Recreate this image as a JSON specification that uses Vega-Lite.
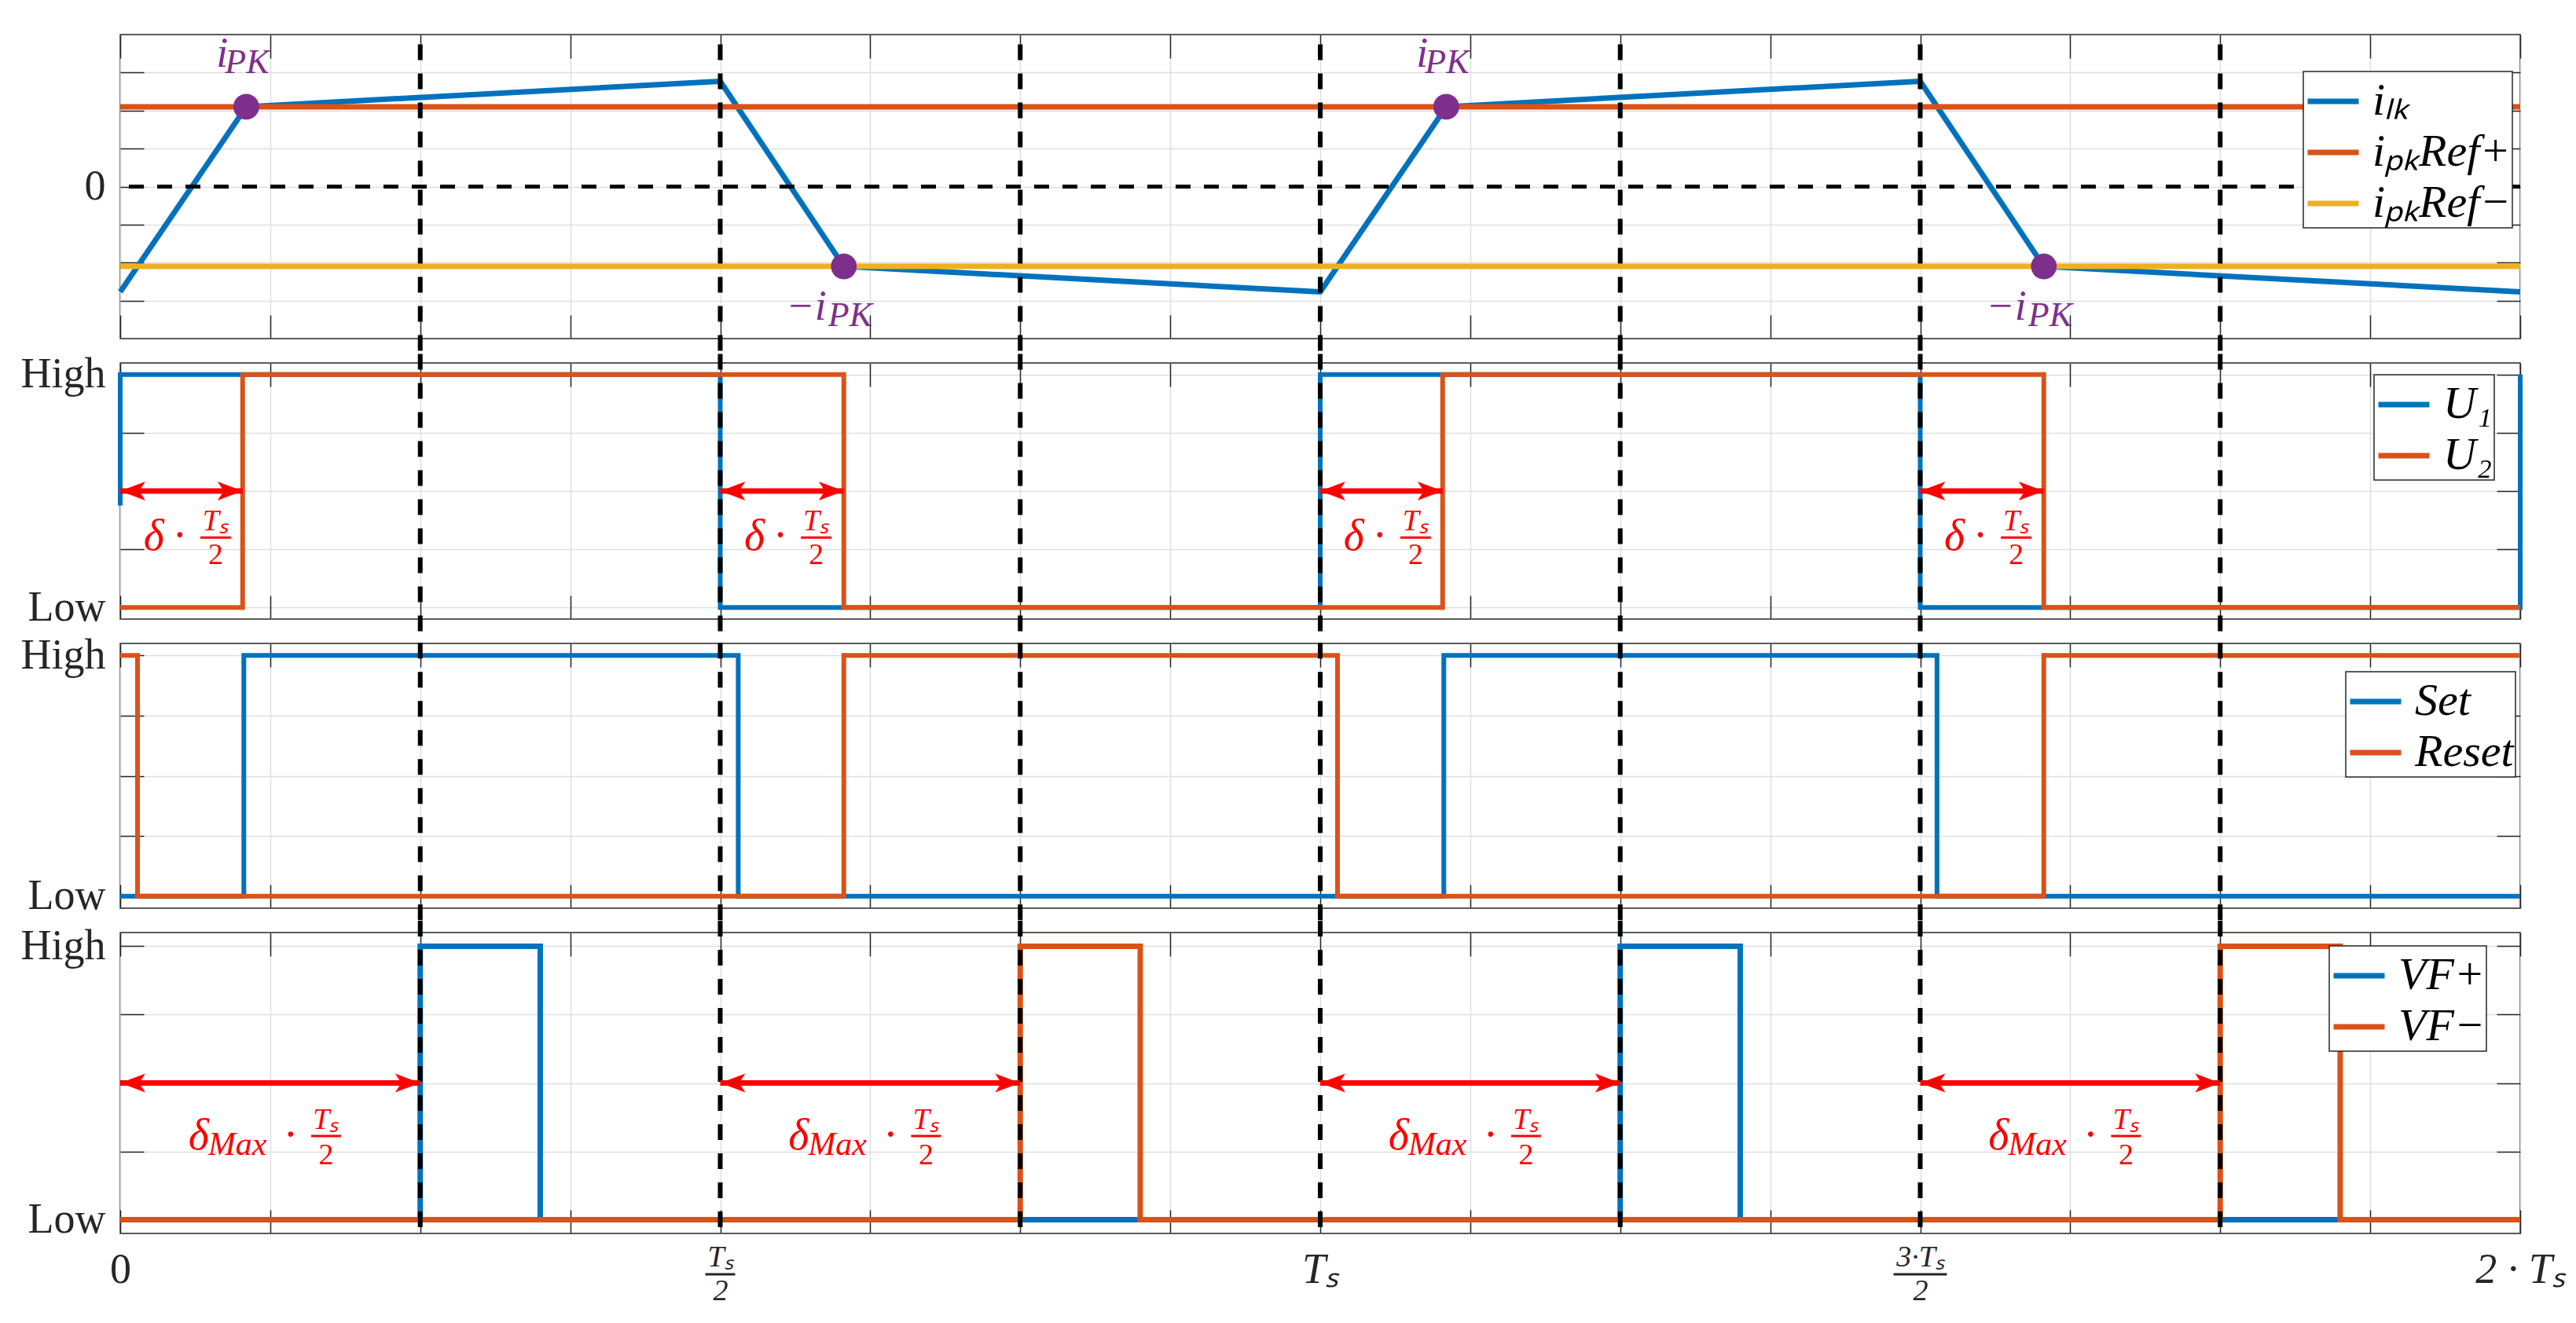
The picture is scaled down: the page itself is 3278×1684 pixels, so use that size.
{
"$schema":"https://vega.github.io/schema/vega-lite/v6.json",
"background":"white",
"padding":{"left":25,"top":41,"right":5,"bottom":5},
"config":{
 "font":"Liberation Serif",
 "view":{"stroke":"#262626","strokeWidth":1.5},
 "axis":{"domain":false,"tickSize":-30,"tickWidth":1.5,"tickColor":"#262626","gridColor":"#dedede","gridWidth":1.5,"labelFont":"Liberation Serif","labelFontSize":54,"labelColor":"#262626","labelOverlap":false,"labelFlush":false,"labelBound":false},
 "legend":{"symbolType":"stroke","symbolSize":4225,"symbolStrokeWidth":7,"labelFont":"Liberation Serif","labelFontSize":58,"labelFontStyle":"italic","labelColor":"#000000","labelOffset":14,"fillColor":"#ffffff","strokeColor":"#262626","strokeWidth":1.5,"padding":2,"rowPadding":-5,"labelLimit":0}
},
"datasets":{
 "p1":[
  {"t":0,"v":-2.77,"s":"iₗₖ"},{"t":0.105,"v":2.1,"s":"iₗₖ"},{"t":0.5,"v":2.77,"s":"iₗₖ"},{"t":0.603,"v":-2.1,"s":"iₗₖ"},{"t":1,"v":-2.77,"s":"iₗₖ"},{"t":1.105,"v":2.1,"s":"iₗₖ"},{"t":1.5,"v":2.77,"s":"iₗₖ"},{"t":1.603,"v":-2.1,"s":"iₗₖ"},{"t":2,"v":-2.77,"s":"iₗₖ"},
  {"t":0,"v":2.1,"s":"iₚₖRef+"},{"t":2,"v":2.1,"s":"iₚₖRef+"},
  {"t":0,"v":-2.1,"s":"iₚₖRef−"},{"t":2,"v":-2.1,"s":"iₚₖRef−"}],
 "pk":[{"t":0.105,"v":2.1},{"t":0.603,"v":-2.1},{"t":1.105,"v":2.1},{"t":1.603,"v":-2.1}],
 "dash":[{"t":0.25},{"t":0.5},{"t":0.75},{"t":1},{"t":1.25},{"t":1.5},{"t":1.75}],
 "p2":[
  {"t":0,"v":0.438,"s":"U₁"},{"t":0,"v":1,"s":"U₁"},{"t":0.5,"v":0,"s":"U₁"},{"t":1,"v":1,"s":"U₁"},{"t":1.5,"v":0,"s":"U₁"},{"t":2,"v":1,"s":"U₁"},
  {"t":0,"v":0,"s":"U₂"},{"t":0.102,"v":1,"s":"U₂"},{"t":0.603,"v":0,"s":"U₂"},{"t":1.102,"v":1,"s":"U₂"},{"t":1.603,"v":0,"s":"U₂"},{"t":2,"v":0,"s":"U₂"}],
 "p3":[
  {"t":0,"v":0,"s":"Set"},{"t":0.103,"v":1,"s":"Set"},{"t":0.515,"v":0,"s":"Set"},{"t":1.103,"v":1,"s":"Set"},{"t":1.514,"v":0,"s":"Set"},{"t":2,"v":0,"s":"Set"},
  {"t":0,"v":1,"s":"Reset"},{"t":0.0144,"v":0,"s":"Reset"},{"t":0.603,"v":1,"s":"Reset"},{"t":1.0144,"v":0,"s":"Reset"},{"t":1.603,"v":1,"s":"Reset"},{"t":2,"v":1,"s":"Reset"}],
 "p4":[
  {"t":0,"v":0,"s":"VF+"},{"t":0.25,"v":1,"s":"VF+"},{"t":0.35,"v":0,"s":"VF+"},{"t":1.25,"v":1,"s":"VF+"},{"t":1.35,"v":0,"s":"VF+"},{"t":2,"v":0,"s":"VF+"},
  {"t":0,"v":0,"s":"VF−"},{"t":0.75,"v":1,"s":"VF−"},{"t":0.85,"v":0,"s":"VF−"},{"t":1.75,"v":1,"s":"VF−"},{"t":1.85,"v":0,"s":"VF−"},{"t":2,"v":0,"s":"VF−"}],
 "ar2":[{"a":0,"b":0.102,"m":0.051},{"a":0.5,"b":0.603,"m":0.5515},{"a":1,"b":1.102,"m":1.051},{"a":1.5,"b":1.603,"m":1.5515}],
 "ar4":[{"a":0,"b":0.25,"m":0.125},{"a":0.5,"b":0.75,"m":0.625},{"a":1,"b":1.25,"m":1.125},{"a":1.5,"b":1.75,"m":1.625}]
},
"spacing":31,
"bounds":"flush",
"resolve":{"scale":{"x":"independent","y":"independent","color":"independent"},"legend":{"color":"independent"}},
"vconcat":[
 {
  "width":3054,"height":387,
  "resolve":{"axis":{"x":"independent","y":"independent"}},
  "layer":[
   {"data":{"name":"p1"},"mark":{"type":"line","strokeWidth":7,"strokeJoin":"round"},
    "encoding":{
     "x":{"field":"t","type":"quantitative","scale":{"domain":[0,2],"nice":false,"zero":false},"axis":{"orient":"bottom","values":[0,0.125,0.25,0.375,0.5,0.625,0.75,0.875,1,1.125,1.25,1.375,1.5,1.625,1.75,1.875,2],"labels":false,"grid":true,"title":null}},
     "y":{"field":"v","type":"quantitative","scale":{"domain":[-4,4],"nice":false,"zero":false},"axis":{"orient":"left","values":[-3,-2,-1,0,1,2,3],"grid":true,"title":null,"labelPadding":49,"labelExpr":"datum.value == 0 ? '0' : ''"}},
     "color":{"field":"s","type":"nominal","scale":{"domain":["iₗₖ","iₚₖRef+","iₚₖRef−"],"range":["#0072BD","#D95319","#EDB120"]},"legend":{"orient":"none","legendX":2778,"legendY":47,"title":null,"direction":"vertical"}},
     "order":{"value":null}}},
   {"data":{"name":"p1"},"mark":{"type":"line","opacity":0},
    "encoding":{
     "x":{"field":"t","type":"quantitative","scale":{"domain":[0,2],"nice":false,"zero":false},"axis":{"orient":"top","values":[0,0.125,0.25,0.375,0.5,0.625,0.75,0.875,1,1.125,1.25,1.375,1.5,1.625,1.75,1.875,2],"labels":false,"grid":false,"title":null}},
     "y":{"field":"v","type":"quantitative","scale":{"domain":[-4,4],"nice":false,"zero":false},"axis":{"orient":"right","values":[-3,-2,-1,0,1,2,3],"labels":false,"grid":false,"title":null}}}},
   {"data":{"values":[{}]},"mark":{"type":"rule","color":"#000000","strokeWidth":5,"strokeDash":[19,17]},
    "encoding":{"y":{"datum":0,"scale":{"domain":[-4,4],"nice":false,"zero":false},"axis":null}}},
   {"data":{"name":"dash"},"mark":{"type":"rule","color":"#000000","strokeWidth":6,"strokeDash":[20,17]},
    "encoding":{"x":{"field":"t","type":"quantitative","scale":{"domain":[0,2],"nice":false,"zero":false},"axis":null},
     "y":{"datum":-4.32,"scale":{"domain":[-4,4],"nice":false,"zero":false},"axis":null},"y2":{"datum":3.88}}},
   {"data":{"name":"pk"},"mark":{"type":"point","shape":"circle","filled":true,"size":1075,"color":"#7E2F8E","opacity":1},
    "encoding":{"x":{"field":"t","type":"quantitative","scale":{"domain":[0,2],"nice":false,"zero":false},"axis":null},
     "y":{"field":"v","type":"quantitative","scale":{"domain":[-4,4],"nice":false,"zero":false},"axis":null}}},
   {"data":{"name":"pk"},"transform":[{"filter":"datum.v > 0"}],"mark":{"type":"text","text":"i","font":"Liberation Serif","fontStyle":"italic","fontSize":54,"color":"#7E2F8E","align":"right","baseline":"alphabetic","dx":-23,"dy":-51},
    "encoding":{"x":{"field":"t","type":"quantitative","scale":{"domain":[0,2],"nice":false,"zero":false},"axis":null},
     "y":{"field":"v","type":"quantitative","scale":{"domain":[-4,4],"nice":false,"zero":false},"axis":null}}},
   {"data":{"name":"pk"},"transform":[{"filter":"datum.v > 0"}],"mark":{"type":"text","text":"PK","font":"Liberation Serif","fontStyle":"italic","fontSize":44,"color":"#7E2F8E","align":"left","baseline":"alphabetic","dx":-27,"dy":-43},
    "encoding":{"x":{"field":"t","type":"quantitative","scale":{"domain":[0,2],"nice":false,"zero":false},"axis":null},
     "y":{"field":"v","type":"quantitative","scale":{"domain":[-4,4],"nice":false,"zero":false},"axis":null}}},
   {"data":{"name":"pk"},"transform":[{"filter":"datum.v < 0"}],"mark":{"type":"text","text":"−i","font":"Liberation Serif","fontStyle":"italic","fontSize":54,"color":"#7E2F8E","align":"right","baseline":"alphabetic","dx":-22,"dy":68},
    "encoding":{"x":{"field":"t","type":"quantitative","scale":{"domain":[0,2],"nice":false,"zero":false},"axis":null},
     "y":{"field":"v","type":"quantitative","scale":{"domain":[-4,4],"nice":false,"zero":false},"axis":null}}},
   {"data":{"name":"pk"},"transform":[{"filter":"datum.v < 0"}],"mark":{"type":"text","text":"PK","font":"Liberation Serif","fontStyle":"italic","fontSize":44,"color":"#7E2F8E","align":"left","baseline":"alphabetic","dx":-20,"dy":76},
    "encoding":{"x":{"field":"t","type":"quantitative","scale":{"domain":[0,2],"nice":false,"zero":false},"axis":null},
     "y":{"field":"v","type":"quantitative","scale":{"domain":[-4,4],"nice":false,"zero":false},"axis":null}}}
  ]
 },
 {
  "width":3054,"height":326,
  "resolve":{"axis":{"x":"independent","y":"independent"}},
  "layer":[
   {"data":{"name":"p2"},"mark":{"type":"line","strokeWidth":6,"interpolate":"step-after"},
    "encoding":{
     "x":{"field":"t","type":"quantitative","scale":{"domain":[0,2],"nice":false,"zero":false},"axis":{"orient":"bottom","values":[0,0.125,0.25,0.375,0.5,0.625,0.75,0.875,1,1.125,1.25,1.375,1.5,1.625,1.75,1.875,2],"labels":false,"grid":true,"title":null}},
     "y":{"field":"v","type":"quantitative","scale":{"domain":[-0.05,1.05],"nice":false,"zero":false},"axis":{"orient":"left","values":[0,0.25,0.5,0.75,1],"grid":true,"title":null,"labelPadding":49,"labelExpr":"datum.value == 1 ? 'High' : datum.value == 0 ? 'Low' : ''"}},
     "color":{"field":"s","type":"nominal","scale":{"domain":["U₁","U₂"],"range":["#0072BD","#D95319"]},"legend":{"orient":"none","legendX":2868,"legendY":15,"title":null,"direction":"vertical"}},
     "order":{"value":null}}},
   {"data":{"name":"p2"},"mark":{"type":"line","opacity":0},
    "encoding":{
     "x":{"field":"t","type":"quantitative","scale":{"domain":[0,2],"nice":false,"zero":false},"axis":{"orient":"top","values":[0,0.125,0.25,0.375,0.5,0.625,0.75,0.875,1,1.125,1.25,1.375,1.5,1.625,1.75,1.875,2],"labels":false,"grid":false,"title":null}},
     "y":{"field":"v","type":"quantitative","scale":{"domain":[-0.05,1.05],"nice":false,"zero":false},"axis":{"orient":"right","values":[0,0.25,0.5,0.75,1],"labels":false,"grid":false,"title":null}}}},
   {"data":{"name":"dash"},"mark":{"type":"rule","color":"#000000","strokeWidth":6,"strokeDash":[20,17]},
    "encoding":{"x":{"field":"t","type":"quantitative","scale":{"domain":[0,2],"nice":false,"zero":false},"axis":null},
     "y":{"datum":-0.102,"scale":{"domain":[-0.05,1.05],"nice":false,"zero":false},"axis":null},"y2":{"datum":1.102}}},
   {"data":{"name":"ar2"},"mark":{"type":"rule","color":"#FF0000","strokeWidth":7},
    "encoding":{"x":{"field":"a","type":"quantitative","scale":{"domain":[0,2],"nice":false,"zero":false},"axis":null},"x2":{"field":"b"},
     "y":{"datum":0.5,"scale":{"domain":[-0.05,1.05],"nice":false,"zero":false},"axis":null}}},
   {"data":{"name":"ar2"},"mark":{"type":"point","shape":"M -1 0 L 1 -0.75 L 0.5 0 L 1 0.75 Z","filled":true,"color":"#FF0000","opacity":1,"size":1024,"xOffset":16,"strokeWidth":0},
    "encoding":{"x":{"field":"a","type":"quantitative","scale":{"domain":[0,2],"nice":false,"zero":false},"axis":null},
     "y":{"datum":0.5,"scale":{"domain":[-0.05,1.05],"nice":false,"zero":false},"axis":null}}},
   {"data":{"name":"ar2"},"mark":{"type":"point","shape":"M 1 0 L -1 -0.75 L -0.5 0 L -1 0.75 Z","filled":true,"color":"#FF0000","opacity":1,"size":1024,"xOffset":-16,"strokeWidth":0},
    "encoding":{"x":{"field":"b","type":"quantitative","scale":{"domain":[0,2],"nice":false,"zero":false},"axis":null},
     "y":{"datum":0.5,"scale":{"domain":[-0.05,1.05],"nice":false,"zero":false},"axis":null}}},
   {"data":{"name":"ar2"},"mark":{"type":"text","text":"δ","font":"Liberation Serif","fontStyle":"italic","fontSize":56,"color":"#FF0000","align":"center","baseline":"alphabetic","dx":-35},
    "encoding":{"x":{"field":"m","type":"quantitative","scale":{"domain":[0,2],"nice":false,"zero":false},"axis":null},
     "y":{"datum":0.246,"scale":{"domain":[-0.05,1.05],"nice":false,"zero":false},"axis":null}}},
   {"data":{"name":"ar2"},"mark":{"type":"text","text":"·","font":"Liberation Serif","fontSize":56,"color":"#FF0000","align":"center","baseline":"alphabetic","dx":-2},
    "encoding":{"x":{"field":"m","type":"quantitative","scale":{"domain":[0,2],"nice":false,"zero":false},"axis":null},
     "y":{"datum":0.246,"scale":{"domain":[-0.05,1.05],"nice":false,"zero":false},"axis":null}}},
   {"data":{"name":"ar2"},"mark":{"type":"text","text":"Tₛ","font":"Liberation Serif","fontStyle":"italic","fontSize":38,"color":"#FF0000","align":"center","baseline":"alphabetic","dx":43.5,"dy":-25},
    "encoding":{"x":{"field":"m","type":"quantitative","scale":{"domain":[0,2],"nice":false,"zero":false},"axis":null},
     "y":{"datum":0.246,"scale":{"domain":[-0.05,1.05],"nice":false,"zero":false},"axis":null}}},
   {"data":{"name":"ar2"},"mark":{"type":"rule","color":"#FF0000","strokeWidth":3,"xOffset":24,"x2Offset":63,"yOffset":-16},
    "encoding":{"x":{"field":"m","type":"quantitative","scale":{"domain":[0,2],"nice":false,"zero":false},"axis":null},"x2":{"field":"m"},
     "y":{"datum":0.246,"scale":{"domain":[-0.05,1.05],"nice":false,"zero":false},"axis":null}}},
   {"data":{"name":"ar2"},"mark":{"type":"text","text":"2","font":"Liberation Serif","fontSize":38,"color":"#FF0000","align":"center","baseline":"alphabetic","dx":43.5,"dy":18},
    "encoding":{"x":{"field":"m","type":"quantitative","scale":{"domain":[0,2],"nice":false,"zero":false},"axis":null},
     "y":{"datum":0.246,"scale":{"domain":[-0.05,1.05],"nice":false,"zero":false},"axis":null}}}
  ]
 },
 {
  "width":3054,"height":337,
  "resolve":{"axis":{"x":"independent","y":"independent"}},
  "layer":[
   {"data":{"name":"p3"},"mark":{"type":"line","strokeWidth":6,"interpolate":"step-after"},
    "encoding":{
     "x":{"field":"t","type":"quantitative","scale":{"domain":[0,2],"nice":false,"zero":false},"axis":{"orient":"bottom","values":[0,0.125,0.25,0.375,0.5,0.625,0.75,0.875,1,1.125,1.25,1.375,1.5,1.625,1.75,1.875,2],"labels":false,"grid":true,"title":null}},
     "y":{"field":"v","type":"quantitative","scale":{"domain":[-0.05,1.05],"nice":false,"zero":false},"axis":{"orient":"left","values":[0,0.25,0.5,0.75,1],"grid":true,"title":null,"labelPadding":49,"labelExpr":"datum.value == 1 ? 'High' : datum.value == 0 ? 'Low' : ''"}},
     "color":{"field":"s","type":"nominal","scale":{"domain":["Set","Reset"],"range":["#0072BD","#D95319"]},"legend":{"orient":"none","legendX":2832,"legendY":36,"title":null,"direction":"vertical"}},
     "order":{"value":null}}},
   {"data":{"name":"p3"},"mark":{"type":"line","opacity":0},
    "encoding":{
     "x":{"field":"t","type":"quantitative","scale":{"domain":[0,2],"nice":false,"zero":false},"axis":{"orient":"top","values":[0,0.125,0.25,0.375,0.5,0.625,0.75,0.875,1,1.125,1.25,1.375,1.5,1.625,1.75,1.875,2],"labels":false,"grid":false,"title":null}},
     "y":{"field":"v","type":"quantitative","scale":{"domain":[-0.05,1.05],"nice":false,"zero":false},"axis":{"orient":"right","values":[0,0.25,0.5,0.75,1],"labels":false,"grid":false,"title":null}}}},
   {"data":{"name":"dash"},"mark":{"type":"rule","color":"#000000","strokeWidth":6,"strokeDash":[20,17]},
    "encoding":{"x":{"field":"t","type":"quantitative","scale":{"domain":[0,2],"nice":false,"zero":false},"axis":null},
     "y":{"datum":-0.1,"scale":{"domain":[-0.05,1.05],"nice":false,"zero":false},"axis":null},"y2":{"datum":1.1}}}
  ]
 },
 {
  "width":3054,"height":383,
  "resolve":{"axis":{"x":"independent","y":"independent"}},
  "layer":[
   {"data":{"name":"p4"},"mark":{"type":"line","strokeWidth":7,"interpolate":"step-after"},
    "encoding":{
     "x":{"field":"t","type":"quantitative","scale":{"domain":[0,2],"nice":false,"zero":false},"axis":{"orient":"bottom","values":[0,0.125,0.25,0.375,0.5,0.625,0.75,0.875,1,1.125,1.25,1.375,1.5,1.625,1.75,1.875,2],"grid":true,"title":null,"labelLineHeight":43,"labelBaseline":"top",
       "labelExpr":"datum.value == 0 ? '0' : datum.value == 0.5 ? ['Tₛ','2'] : datum.value == 1 ? 'Tₛ' : datum.value == 1.5 ? ['3·Tₛ','2'] : datum.value == 2 ? '2 · Tₛ' : ''",
       "labelFontSize":{"condition":{"test":"datum.value == 0.5 || datum.value == 1.5","value":38},"value":54},
       "labelPadding":{"condition":{"test":"datum.value == 0.5 || datum.value == 1.5","value":41},"value":49.5},
       "labelFontStyle":{"condition":{"test":"datum.value > 0","value":"italic"},"value":"normal"}}},
     "y":{"field":"v","type":"quantitative","scale":{"domain":[-0.05,1.05],"nice":false,"zero":false},"axis":{"orient":"left","values":[0,0.25,0.5,0.75,1],"grid":true,"title":null,"labelPadding":49,"labelExpr":"datum.value == 1 ? 'High' : datum.value == 0 ? 'Low' : ''"}},
     "color":{"field":"s","type":"nominal","scale":{"domain":["VF+","VF−"],"range":["#0072BD","#D95319"]},"legend":{"orient":"none","legendX":2811,"legendY":17,"title":null,"direction":"vertical"}},
     "order":{"value":null}}},
   {"data":{"name":"p4"},"mark":{"type":"line","opacity":0},
    "encoding":{
     "x":{"field":"t","type":"quantitative","scale":{"domain":[0,2],"nice":false,"zero":false},"axis":{"orient":"top","values":[0,0.125,0.25,0.375,0.5,0.625,0.75,0.875,1,1.125,1.25,1.375,1.5,1.625,1.75,1.875,2],"labels":false,"grid":false,"title":null}},
     "y":{"field":"v","type":"quantitative","scale":{"domain":[-0.05,1.05],"nice":false,"zero":false},"axis":{"orient":"right","values":[0,0.25,0.5,0.75,1],"labels":false,"grid":false,"title":null}}}},
   {"data":{"name":"dash"},"mark":{"type":"rule","color":"#000000","strokeWidth":6,"strokeDash":[20,17]},
    "encoding":{"x":{"field":"t","type":"quantitative","scale":{"domain":[0,2],"nice":false,"zero":false},"axis":null},
     "y":{"datum":-0.027,"scale":{"domain":[-0.05,1.05],"nice":false,"zero":false},"axis":null},"y2":{"datum":1.095}}},
   {"data":{"values":[{}]},"mark":{"type":"rule","color":"#262626","strokeWidth":3,"xOffset":-19,"x2Offset":19,"yOffset":52},
    "encoding":{"x":{"datum":0.5,"scale":{"domain":[0,2],"nice":false,"zero":false},"axis":null},"x2":{"datum":0.5},
     "y":{"datum":-0.05,"scale":{"domain":[-0.05,1.05],"nice":false,"zero":false},"axis":null}}},
   {"data":{"values":[{}]},"mark":{"type":"rule","color":"#262626","strokeWidth":3,"xOffset":-34,"x2Offset":34,"yOffset":52},
    "encoding":{"x":{"datum":1.5,"scale":{"domain":[0,2],"nice":false,"zero":false},"axis":null},"x2":{"datum":1.5},
     "y":{"datum":-0.05,"scale":{"domain":[-0.05,1.05],"nice":false,"zero":false},"axis":null}}},
   {"data":{"name":"ar4"},"mark":{"type":"rule","color":"#FF0000","strokeWidth":7},
    "encoding":{"x":{"field":"a","type":"quantitative","scale":{"domain":[0,2],"nice":false,"zero":false},"axis":null},"x2":{"field":"b"},
     "y":{"datum":0.5,"scale":{"domain":[-0.05,1.05],"nice":false,"zero":false},"axis":null}}},
   {"data":{"name":"ar4"},"mark":{"type":"point","shape":"M -1 0 L 1 -0.75 L 0.5 0 L 1 0.75 Z","filled":true,"color":"#FF0000","opacity":1,"size":1024,"xOffset":16,"strokeWidth":0},
    "encoding":{"x":{"field":"a","type":"quantitative","scale":{"domain":[0,2],"nice":false,"zero":false},"axis":null},
     "y":{"datum":0.5,"scale":{"domain":[-0.05,1.05],"nice":false,"zero":false},"axis":null}}},
   {"data":{"name":"ar4"},"mark":{"type":"point","shape":"M 1 0 L -1 -0.75 L -0.5 0 L -1 0.75 Z","filled":true,"color":"#FF0000","opacity":1,"size":1024,"xOffset":-16,"strokeWidth":0},
    "encoding":{"x":{"field":"b","type":"quantitative","scale":{"domain":[0,2],"nice":false,"zero":false},"axis":null},
     "y":{"datum":0.5,"scale":{"domain":[-0.05,1.05],"nice":false,"zero":false},"axis":null}}},
   {"data":{"name":"ar4"},"mark":{"type":"text","text":"δ","font":"Liberation Serif","fontStyle":"italic","fontSize":56,"color":"#FF0000","align":"center","baseline":"alphabetic","dx":-91},
    "encoding":{"x":{"field":"m","type":"quantitative","scale":{"domain":[0,2],"nice":false,"zero":false},"axis":null},
     "y":{"datum":0.257,"scale":{"domain":[-0.05,1.05],"nice":false,"zero":false},"axis":null}}},
   {"data":{"name":"ar4"},"mark":{"type":"text","text":"Max","font":"Liberation Serif","fontStyle":"italic","fontSize":42,"color":"#FF0000","align":"left","baseline":"alphabetic","dx":-79,"dy":7},
    "encoding":{"x":{"field":"m","type":"quantitative","scale":{"domain":[0,2],"nice":false,"zero":false},"axis":null},
     "y":{"datum":0.257,"scale":{"domain":[-0.05,1.05],"nice":false,"zero":false},"axis":null}}},
   {"data":{"name":"ar4"},"mark":{"type":"text","text":"·","font":"Liberation Serif","fontSize":56,"color":"#FF0000","align":"center","baseline":"alphabetic","dx":26},
    "encoding":{"x":{"field":"m","type":"quantitative","scale":{"domain":[0,2],"nice":false,"zero":false},"axis":null},
     "y":{"datum":0.257,"scale":{"domain":[-0.05,1.05],"nice":false,"zero":false},"axis":null}}},
   {"data":{"name":"ar4"},"mark":{"type":"text","text":"Tₛ","font":"Liberation Serif","fontStyle":"italic","fontSize":38,"color":"#FF0000","align":"center","baseline":"alphabetic","dx":71,"dy":-26},
    "encoding":{"x":{"field":"m","type":"quantitative","scale":{"domain":[0,2],"nice":false,"zero":false},"axis":null},
     "y":{"datum":0.257,"scale":{"domain":[-0.05,1.05],"nice":false,"zero":false},"axis":null}}},
   {"data":{"name":"ar4"},"mark":{"type":"rule","color":"#FF0000","strokeWidth":3,"xOffset":52,"x2Offset":90,"yOffset":-17},
    "encoding":{"x":{"field":"m","type":"quantitative","scale":{"domain":[0,2],"nice":false,"zero":false},"axis":null},"x2":{"field":"m"},
     "y":{"datum":0.257,"scale":{"domain":[-0.05,1.05],"nice":false,"zero":false},"axis":null}}},
   {"data":{"name":"ar4"},"mark":{"type":"text","text":"2","font":"Liberation Serif","fontSize":38,"color":"#FF0000","align":"center","baseline":"alphabetic","dx":71,"dy":19},
    "encoding":{"x":{"field":"m","type":"quantitative","scale":{"domain":[0,2],"nice":false,"zero":false},"axis":null},
     "y":{"datum":0.257,"scale":{"domain":[-0.05,1.05],"nice":false,"zero":false},"axis":null}}}
  ]
 }
]
}
